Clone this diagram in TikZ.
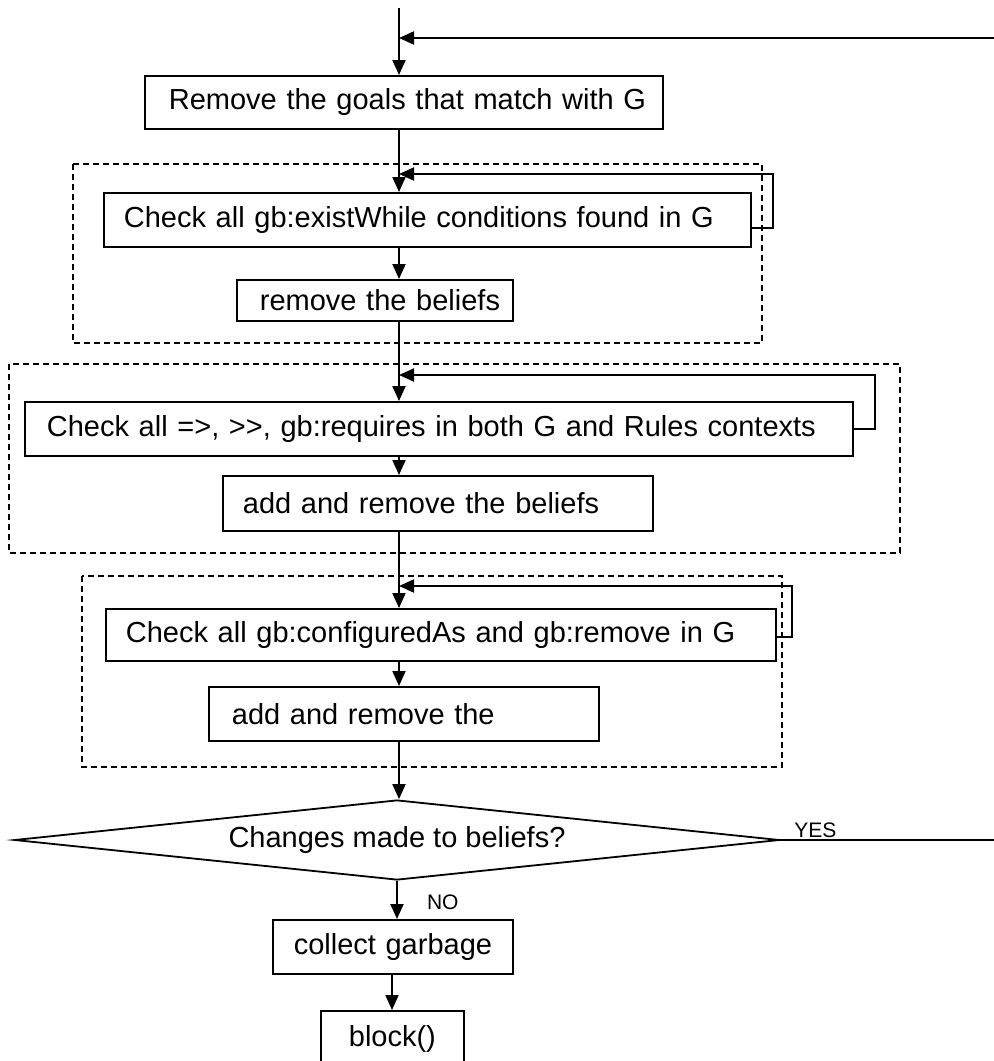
\documentclass[tikz,border=0pt]{standalone}
\usepackage{fontspec}
\setmainfont{Liberation Sans}
\usetikzlibrary{arrows.meta,shapes.geometric,calc}
\begin{document}
\begin{tikzpicture}[x=1pt,y=-1pt,
  box/.style={draw, line width=1.8pt, anchor=north west, align=left, inner xsep=0pt, inner ysep=0pt,
              font=\fontsize{29}{32}\selectfont},
  flow/.style={line width=2pt, -{Triangle[length=15pt,width=13pt]}},
  wire/.style={line width=2pt},
  grp/.style={draw, line width=1.3pt, dash pattern=on 6pt off 4pt},
  lbl/.style={font=\fontsize{21}{23}\selectfont, inner sep=1pt}
]
\useasboundingbox (0,0) rectangle (994,1061);
\clip (0,0) rectangle (994,1061);

% dashed group frames
\draw[grp] (73,164) rectangle (762,343);
\draw[grp] (9,364) rectangle (900,553);
\draw[grp] (82,576) rectangle (782,767);

% process boxes: text width = box width, left padding via \hspace*
\node[box, minimum height=53, text width=518] (b1) at (144,75) {\hspace*{24pt}\mbox{Remove the goals that match with G}};
\node[box, minimum height=54, text width=647] (b2) at (103,192) {\hspace*{20pt}\mbox{Check all gb:existWhile conditions found in G}};
\node[box, minimum height=41, text width=276] (b3) at (236,279) {\hspace*{23pt}\mbox{remove the beliefs}};
\node[box, minimum height=54, text width=828] (b4) at (24,401) {\hspace*{22pt}\mbox{Check all =>, >{}>, gb:requires in both G and Rules contexts}};
\node[box, minimum height=55, text width=430] (b5) at (222,475) {\hspace*{20pt}\mbox{add and remove the beliefs}};
\node[box, minimum height=52, text width=670] (b6) at (105,608) {\hspace*{20pt}\mbox{Check all gb:configuredAs and gb:remove in G}};
\node[box, minimum height=54, text width=390] (b7) at (208,686) {\hspace*{23pt}\mbox{add and remove the}};
\node[box, minimum height=54, text width=240, align=center] (b8) at (272,919) {collect garbage};
\node[box, minimum height=56, text width=143, align=center] (b9) at (320,1010) {block()};

% decision
\node[draw, diamond, aspect=9.56, line width=1.8pt, minimum width=765, minimum height=80, inner sep=0pt,
      font=\fontsize{29}{32}\selectfont] (d) at (397,840) {\raisebox{-4pt}{Changes made to beliefs?}};

% main flow
\coordinate (top) at (399,8);
\coordinate (fbR) at (994,38);
\coordinate (yesR) at (994,840);
\draw[flow] (top) -- (top |- b1.north);
\draw[flow] (fbR) -- (top |- fbR);
\draw[flow] (top |- b1.south) -- (top |- b2.north);
\draw[flow] (top |- b2.south) -- (top |- b3.north);
\draw[flow] (top |- b3.south) -- (top |- b4.north);
\draw[flow] (top |- b4.south) -- (top |- b5.north);
\draw[flow] (top |- b5.south) -- (top |- b6.north);
\draw[flow] (top |- b6.south) -- (top |- b7.north);
\draw[flow] (top |- b7.south) -- (top |- d.north);
\draw[flow] (d.south -| 397,0) -- (b8.north -| 397,0) node[lbl, pos=0.55, anchor=west, xshift=28pt] {NO};
\draw[flow] (b8.south -| 392,0) -- (b9.north -| 392,0);
\draw[wire] (d.east) -- (yesR) node[lbl, pos=0, anchor=south west, xshift=12pt] {YES};

% inner loops
\draw[flow] ($(b2.east)+(0,8)$) -- ++(21,0) |- (399,174);
\draw[flow] ($(b4.east)+(0,0)$) -- ++(21,0) |- (399,375);
\draw[flow] ($(b6.east)+(0,2)$) -- ++(15,0) |- (399,586);
\end{tikzpicture}
\end{document}
